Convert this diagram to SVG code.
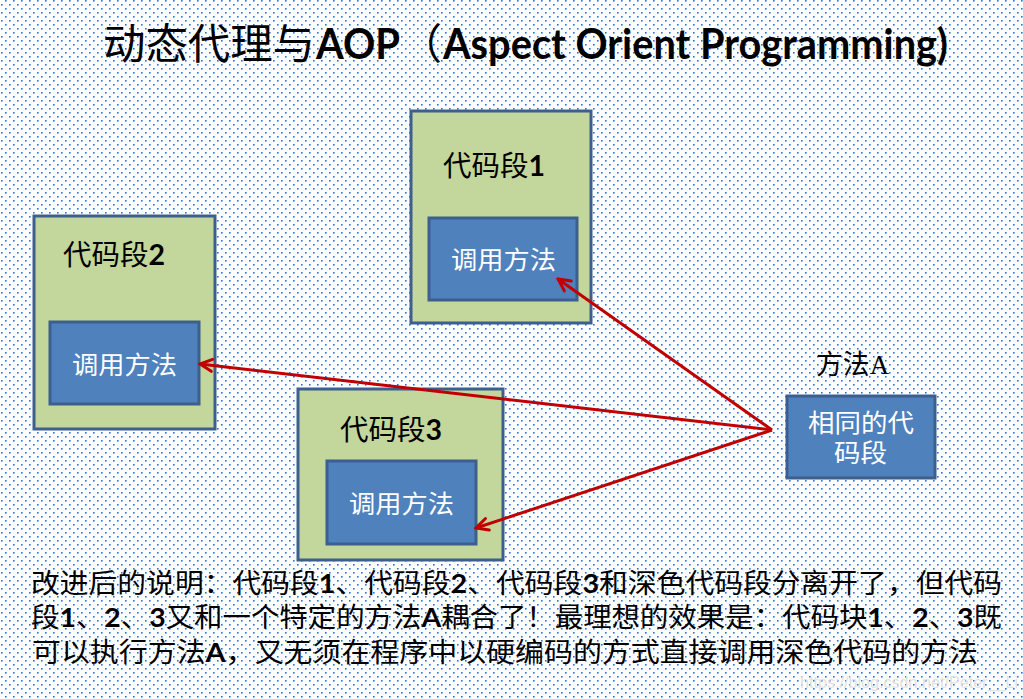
<svg xmlns="http://www.w3.org/2000/svg" width="1023" height="699" viewBox="0 0 1023 699">
  <defs>
    <pattern id="dots" patternUnits="userSpaceOnUse" width="8" height="8">
      <rect x="5" y="0" width="1.6" height="1.6" fill="#2f6fd0"/>
      <rect x="1" y="4" width="1.6" height="1.6" fill="#2f6fd0"/>
    </pattern>
    <marker id="arr" viewBox="0 0 16 16" markerWidth="16" markerHeight="16" refX="14" refY="8" orient="auto" markerUnits="userSpaceOnUse">
      <path d="M2,2 L14,8 L2,14" fill="none" stroke="#c00000" stroke-width="3" stroke-linecap="round" stroke-linejoin="miter"/>
    </marker>
    <style>
      .outer { fill: #c3d69b; stroke: #3c5f8f; stroke-width: 3; }
      .inner { fill: #4f81bd; stroke: #3c5f8f; stroke-width: 3; }
      .cjk { font-family: "Noto Sans CJK SC", sans-serif; fill: #000; }
      .lbl { font-family: "Noto Sans CJK SC", sans-serif; font-size: 28px; fill: #000; }
      .wt { font-family: "Noto Sans CJK SC", sans-serif; font-size: 25px; fill: #ffffff; }
      .b { font-family: "Lato", "Liberation Sans", sans-serif; font-weight: bold; }
      .note { font-family: "Noto Sans CJK SC", sans-serif; font-size: 27px; fill: #000; }
      .conn { stroke: #c00000; stroke-width: 3; fill: none; marker-end: url(#arr); }
    </style>
  </defs>

  <rect x="0" y="0" width="1023" height="699" fill="#ffffff"/>
  <rect x="0" y="0" width="1023" height="699" fill="url(#dots)"/>

  <g id="title">
    <text class="cjk" x="103" y="59" font-size="42" textLength="212" lengthAdjust="spacingAndGlyphs">动态代理与</text>
    <text class="b" x="316" y="59" font-size="42" textLength="84" lengthAdjust="spacingAndGlyphs">AOP</text>
    <text class="cjk" x="400" y="59" font-size="42">（</text>
    <text class="b" x="443" y="59" font-size="42" textLength="505" lengthAdjust="spacingAndGlyphs">Aspect Orient Programming)</text>
  </g>

  <g id="node1">
    <rect class="outer" x="411" y="111" width="180" height="212"/>
    <text class="lbl" x="443" y="176" textLength="102" lengthAdjust="spacingAndGlyphs">代码段<tspan class="b">1</tspan></text>
    <rect class="inner" x="429" y="218" width="148" height="82"/>
    <text class="wt" x="451" y="269" textLength="105" lengthAdjust="spacingAndGlyphs">调用方法</text>
  </g>

  <g id="node2">
    <rect class="outer" x="34" y="216" width="181" height="213"/>
    <text class="lbl" x="63" y="265" textLength="102" lengthAdjust="spacingAndGlyphs">代码段<tspan class="b">2</tspan></text>
    <rect class="inner" x="50" y="322" width="149" height="82"/>
    <text class="wt" x="72" y="374" textLength="105" lengthAdjust="spacingAndGlyphs">调用方法</text>
  </g>

  <g id="node3">
    <rect class="outer" x="298" y="389" width="205" height="171"/>
    <text class="lbl" x="340" y="440" textLength="102" lengthAdjust="spacingAndGlyphs">代码段<tspan class="b">3</tspan></text>
    <rect class="inner" x="327" y="461" width="149" height="83"/>
    <text class="wt" x="349" y="513" textLength="105" lengthAdjust="spacingAndGlyphs">调用方法</text>
  </g>

  <g id="methodA">
    <text x="816" y="374" font-family="Liberation Serif, Noto Sans CJK SC, serif" font-size="27" fill="#000" textLength="73" lengthAdjust="spacingAndGlyphs">方法A</text>
    <rect class="inner" x="787" y="396" width="148" height="82"/>
    <text class="wt" x="808" y="432" font-size="25" textLength="106" lengthAdjust="spacingAndGlyphs">相同的代</text>
    <text class="wt" x="834" y="462" font-size="25" textLength="53" lengthAdjust="spacingAndGlyphs">码段</text>
  </g>

  <g id="connectors">
    <line class="conn" x1="772" y1="430" x2="558" y2="279"/>
    <line class="conn" x1="772" y1="430" x2="200" y2="364"/>
    <line class="conn" x1="772" y1="430" x2="476" y2="528"/>
  </g>

  <g id="note">
    <text class="note" x="31" y="593" textLength="971" lengthAdjust="spacingAndGlyphs">改进后的说明：代码段<tspan class="b">1</tspan>、代码段<tspan class="b">2</tspan>、代码段<tspan class="b">3</tspan>和深色代码段分离开了，但代码</text>
    <text class="note" x="31" y="627" textLength="971" lengthAdjust="spacingAndGlyphs">段<tspan class="b">1</tspan>、<tspan class="b">2</tspan>、<tspan class="b">3</tspan>又和一个特定的方法<tspan class="b">A</tspan>耦合了！最理想的效果是：代码块<tspan class="b">1</tspan>、<tspan class="b">2</tspan>、<tspan class="b">3</tspan>既</text>
    <text class="note" x="32" y="662" textLength="946" lengthAdjust="spacingAndGlyphs">可以执行方法<tspan class="b">A</tspan>，又无须在程序中以硬编码的方式直接调用深色代码的方法</text>
  </g>

  <text id="watermark" x="800" y="688" font-family="Liberation Sans, sans-serif" font-size="16" fill="#e2e2e2" textLength="218" lengthAdjust="spacingAndGlyphs">https://blog.csdn.net/Peter__Li</text>
</svg>
